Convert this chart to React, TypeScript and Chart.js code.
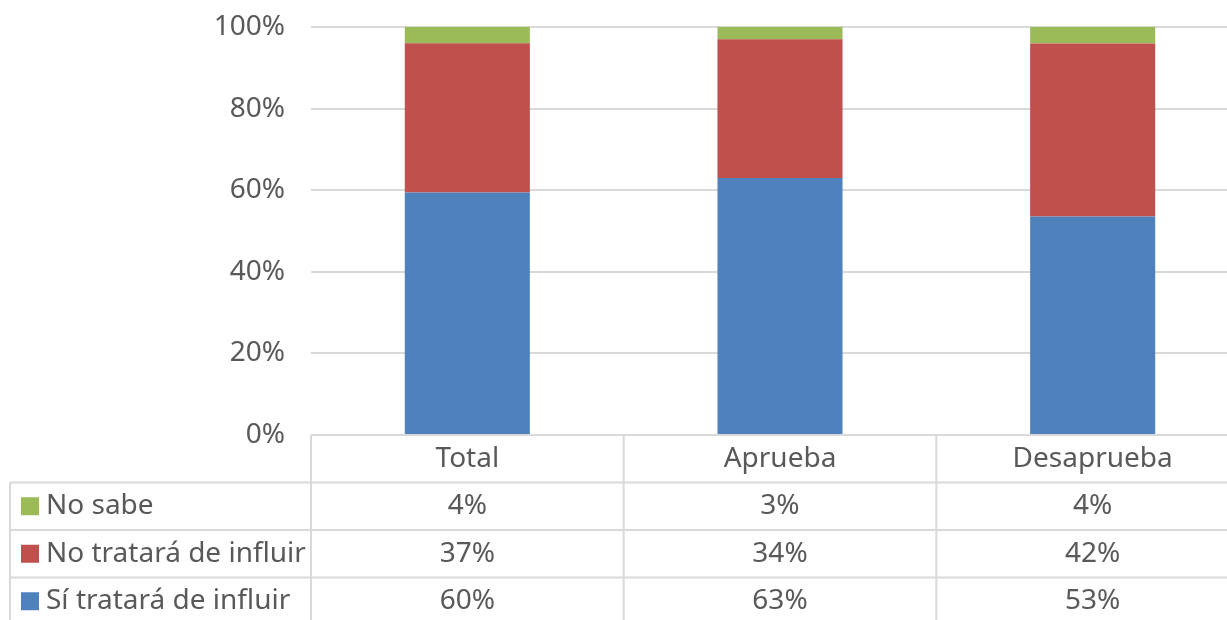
import React, { useEffect, useRef } from "react";
import { Chart, registerables } from "chart.js";

Chart.register(...registerables);

const categories = ["Total", "Aprueba", "Desaprueba"];
const siValues = [60, 63, 53];
const noValues = [37, 34, 42];
const nsValues = [4, 3, 4];
const seriesNames = ["Sí tratará de influir", "No tratará de influir", "No sabe"];
const seriesColors = ["#4f81bd", "#c0504d", "#9bbb59"];
const yTickValues = [0, 20, 40, 60, 80, 100];

const FONT = "'Noto Sans', 'Open Sans', sans-serif";
const TEXT = "#595959";
const LINE = "#d9d9d9";
const FSIZE = 28;

function normalize(series: number[][]): number[][] {
  return series.map((s) =>
    s.map((v, i) => {
      const tot = series.reduce((a, ss) => a + ss[i], 0);
      return (v / tot) * 100;
    })
  );
}

const tablePlugin = {
  id: "dataTable",
  afterDraw(chart: any) {
    const ctx = chart.ctx as CanvasRenderingContext2D;
    const area = chart.chartArea;
    const xs = chart.scales.x;
    const n = categories.length;
    const catW = (area.right - area.left) / n;
    const top = area.bottom;
    const rowH = 47.5;
    const legendLeft = 10;
    const bottom = chart.height + 5;
    ctx.save();
    ctx.strokeStyle = LINE;
    ctx.lineWidth = 2;
    ctx.beginPath();
    ctx.moveTo(area.left, top);
    ctx.lineTo(area.right, top);
    for (let r = 1; r <= 3; r++) {
      const y = top + rowH * r;
      ctx.moveTo(legendLeft, y);
      ctx.lineTo(area.right, y);
    }
    for (let c = 0; c <= n; c++) {
      const x = area.left + catW * c;
      ctx.moveTo(x, top);
      ctx.lineTo(x, bottom);
    }
    ctx.moveTo(legendLeft, top + rowH);
    ctx.lineTo(legendLeft, bottom);
    ctx.stroke();

    ctx.fillStyle = TEXT;
    ctx.font = `${FSIZE}px ${FONT}`;
    ctx.textAlign = "center";
    ctx.textBaseline = "middle";
    categories.forEach((c, i) => {
      const x = xs.getPixelForValue(i);
      ctx.fillText(c, x, top + rowH / 2);
    });
    const rows = [
      { name: seriesNames[2], color: seriesColors[2], vals: nsValues },
      { name: seriesNames[1], color: seriesColors[1], vals: noValues },
      { name: seriesNames[0], color: seriesColors[0], vals: siValues },
    ];
    rows.forEach((row, r) => {
      const cy = top + rowH * (r + 1) + rowH / 2;
      ctx.fillStyle = row.color;
      ctx.fillRect(21, cy - 9, 18, 18);
      ctx.fillStyle = TEXT;
      ctx.textAlign = "left";
      ctx.fillText(row.name, 46, cy);
      ctx.textAlign = "center";
      row.vals.forEach((v, i) => {
        ctx.fillText(`${v}%`, xs.getPixelForValue(i), cy);
      });
    });
    ctx.restore();
  },
};

export default function App() {
  const ref = useRef<HTMLCanvasElement | null>(null);
  useEffect(() => {
    if (!ref.current) return;
    const norm = normalize([siValues, noValues, nsValues]);
    const chart = new Chart(ref.current, {
      type: "bar",
      data: {
        labels: categories,
        datasets: norm.map((d, i) => ({
          label: seriesNames[i],
          data: d,
          backgroundColor: seriesColors[i],
          borderWidth: 0,
          barPercentage: 0.4,
          categoryPercentage: 1,
        })),
      },
      options: {
        animation: false,
        responsive: false,
        maintainAspectRatio: false,
        layout: { padding: { top: 27, bottom: 185, right: 0, left: 0 } },
        plugins: { legend: { display: false }, tooltip: { enabled: false } },
        scales: {
          x: { stacked: true, display: false },
          y: {
            stacked: true,
            min: 0,
            max: 100,
            afterBuildTicks: (s: any) => {
              s.ticks = yTickValues.map((v) => ({ value: v }));
            },
            afterFit: (s: any) => {
              s.width = 311;
              s.paddingTop = 0;
              s.paddingBottom = 0;
            },
            border: { display: false },
            grid: { color: LINE, lineWidth: 2, drawTicks: false },
            ticks: {
              color: TEXT,
              font: { family: FONT, size: FSIZE },
              padding: 26,
              callback: (v: any) => `${v}%`,
            },
          },
        },
      },
      plugins: [tablePlugin],
    });
    return () => chart.destroy();
  }, []);
  return (
    <div style={{ position: "fixed", left: 0, top: 0, width: 1227, height: 620, overflow: "hidden", background: "#fff" }}>
      <canvas ref={ref} width={1249} height={620} style={{ width: 1249, height: 620, display: "block" }} />
    </div>
  );
}
